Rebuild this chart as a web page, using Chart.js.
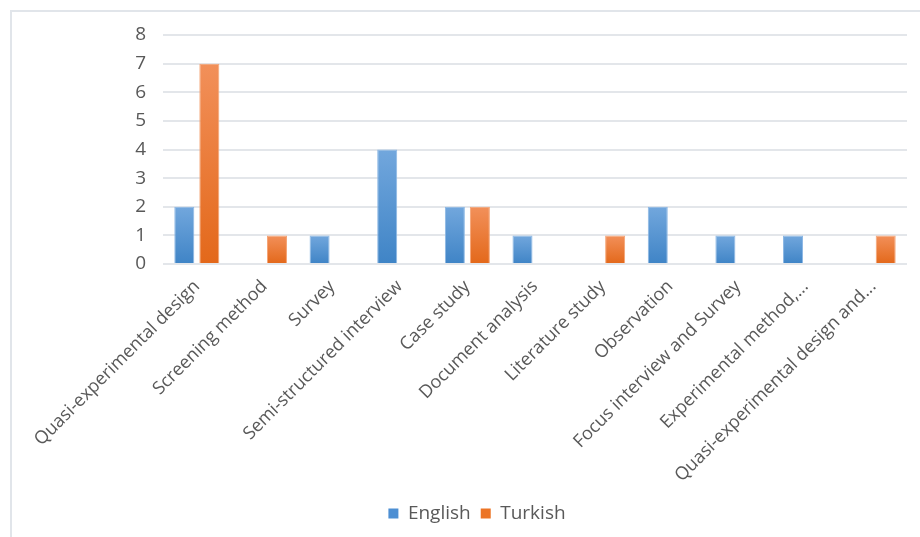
<!DOCTYPE html>
<html>
<head>
<meta charset="utf-8">
<script src="https://cdn.jsdelivr.net/npm/chart.js@4.4.1/dist/chart.umd.min.js"></script>
<style>
  html, body { margin: 0; padding: 0; background: #fff; }
  #wrap { position: relative; width: 920px; height: 537px; overflow: hidden; }
  #frame {
    position: absolute; left: 10px; top: 10px; width: 1000px; height: 1000px;
    border-left: 2px solid #e1e5ea; border-top: 2px solid #e1e5ea;
  }
  canvas { position: absolute; left: 0; top: 0; }
</style>
</head>
<body>
<div id="wrap">
  <div id="frame"></div>
  <canvas id="methods" width="920" height="537"></canvas>
</div>
<script>
const categories = [
  "Quasi-experimental design",
  "Screening method",
  "Survey",
  "Semi-structured interview",
  "Case study",
  "Document analysis",
  "Literature study",
  "Observation",
  "Focus interview and Survey",
  "Experimental method,...",
  "Quasi-experimental design and..."
];
const english = [2, 0, 1, 4, 2, 1, 0, 2, 1, 1, 0];
const turkish = [7, 1, 0, 0, 2, 0, 1, 0, 0, 0, 1];
const yTicks = [0, 1, 2, 3, 4, 5, 6, 7, 8];

const textColor = "#595959";
const gridColor = "#e3e6ea";

// vertical gradient per bar, lighter at the top
function barFill(top, bottom, solid) {
  return function (ctx) {
    if (ctx.type !== "data") return solid;
    const chart = ctx.chart;
    const y = chart.scales.y;
    if (!y || !chart.chartArea) return solid;
    const v = ctx.raw || 0;
    const y0 = y.getPixelForValue(v);
    const y1 = y.getPixelForValue(0);
    if (y1 - y0 < 1) return solid;
    const g = chart.ctx.createLinearGradient(0, y0, 0, y1);
    g.addColorStop(0, top);
    g.addColorStop(1, bottom);
    return g;
  };
}

new Chart(document.getElementById("methods"), {
  type: "bar",
  data: {
    labels: categories,
    datasets: [
      {
        label: "English",
        data: english,
        backgroundColor: barFill("#72a7dd", "#3f84c6", "#4d8fd3"),
        borderColor: "#8bb7e4",
        borderWidth: 1,
        categoryPercentage: 0.74,
        barPercentage: 0.8
      },
      {
        label: "Turkish",
        data: turkish,
        backgroundColor: barFill("#f2905a", "#e3681a", "#ec7425"),
        borderColor: "#f5a373",
        borderWidth: 1,
        categoryPercentage: 0.74,
        barPercentage: 0.8
      }
    ]
  },
  options: {
    responsive: false,
    animation: false,
    layout: {
      padding: { left: 47, right: 13, top: 35, bottom: 4 }
    },
    plugins: {
      tooltip: { enabled: false },
      legend: {
        position: "bottom",
        labels: {
          color: textColor,
          font: { family: "Open Sans", size: 19 },
          boxWidth: 10,
          boxHeight: 10,
          padding: 10,
          generateLabels: function (chart) {
            const solids = ["#4d8fd3", "#ec7425"];
            return chart.data.datasets.map((ds, i) => ({
              text: ds.label,
              fillStyle: solids[i],
              strokeStyle: solids[i],
              lineWidth: 0,
              fontColor: textColor,
              datasetIndex: i
            }));
          }
        }
      }
    },
    scales: {
      x: {
        grid: { display: false },
        border: { display: false },
        ticks: {
          color: textColor,
          font: { family: "Open Sans", size: 18 },
          minRotation: 45,
          maxRotation: 45,
          autoSkip: false,
          padding: 4
        },
        afterFit: function (scale) { scale.height = 230; }
      },
      y: {
        min: 0,
        max: 8,
        afterBuildTicks: function (scale) {
          scale.ticks = yTicks.map(v => ({ value: v }));
        },
        grid: { color: gridColor, lineWidth: 2, drawTicks: false },
        border: { display: false },
        ticks: {
          color: textColor,
          font: { family: "Open Sans", size: 19 },
          padding: 17
        },
        afterFit: function (scale) { scale.width = 116; }
      }
    }
  }
});
</script>
</body>
</html>
